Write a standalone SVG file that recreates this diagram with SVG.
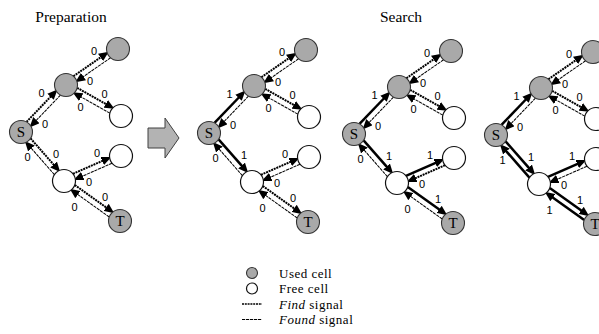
<svg xmlns="http://www.w3.org/2000/svg" width="599" height="334" viewBox="0 0 599 334">
<style>
.used{fill:#a9a9a9;stroke:#333;stroke-width:1.1}
.free{fill:#fff;stroke:#111;stroke-width:1.2}
.find{fill:none;stroke:#000;stroke-width:2;stroke-dasharray:2 0.8}
.found{fill:none;stroke:#000;stroke-width:1;stroke-dasharray:3.2 0.8}
.sig{fill:none;stroke:#000;stroke-width:2.5}
.lbl{font-family:"Liberation Sans",Arial,sans-serif;font-size:11px;text-anchor:middle;fill:#000}
.nl{font-family:"Liberation Serif","Times New Roman",serif;font-size:15px;text-anchor:middle;fill:#000}
.title{font-family:"Liberation Serif","Times New Roman",serif;font-size:15.5px;text-anchor:middle;fill:#000}
.leg{font-family:"Liberation Serif","Times New Roman",serif;font-size:13px;letter-spacing:0.5px;fill:#000}
</style>
<defs>
<marker id="ah" markerUnits="userSpaceOnUse" markerWidth="10" markerHeight="9" viewBox="0 0 9 8" refX="1" refY="4" orient="auto">
<path d="M0,0 L9,4 L0,8 z" fill="#000"/>
</marker>
</defs>
<rect width="599" height="334" fill="#fff"/>
<text class="title" x="71" y="22">Preparation</text>
<text class="title" x="401" y="22">Search</text>

<!-- Panel 1 -->
<g id="panel1" transform="translate(0,0)">
<g id="p1-connectors">
<g transform="translate(21,132) rotate(-46.25)"><line class="find" x1="11.1" y1="-3" x2="46.97" y2="-3" marker-end="url(#ah)"/><line class="found" x1="53.97" y1="3" x2="18.1" y2="3" marker-end="url(#ah)"/></g>
<g transform="translate(66,85) rotate(-34.70)"><line class="find" x1="11.1" y1="-3" x2="45.15" y2="-3" marker-end="url(#ah)"/><line class="found" x1="52.15" y1="3" x2="18.1" y2="3" marker-end="url(#ah)"/></g>
<g transform="translate(66,85) rotate(29.41)"><line class="find" x1="11.1" y1="-3" x2="45.03" y2="-3" marker-end="url(#ah)"/><line class="found" x1="52.03" y1="3" x2="18.1" y2="3" marker-end="url(#ah)"/></g>
<g transform="translate(21,132) rotate(48.73)"><line class="find" x1="11.1" y1="-3" x2="47.09" y2="-3" marker-end="url(#ah)"/><line class="found" x1="54.09" y1="3" x2="18.1" y2="3" marker-end="url(#ah)"/></g>
<g transform="translate(64,181) rotate(-23.68)"><line class="find" x1="11.1" y1="-3" x2="44.14" y2="-3" marker-end="url(#ah)"/><line class="found" x1="51.14" y1="3" x2="18.1" y2="3" marker-end="url(#ah)"/></g>
<g transform="translate(64,181) rotate(35.54)"><line class="find" x1="11.1" y1="-3" x2="50.72" y2="-3" marker-end="url(#ah)"/><line class="found" x1="57.72" y1="3" x2="18.1" y2="3" marker-end="url(#ah)"/></g>
<text class="lbl" x="41.5" y="97">0</text><text class="lbl" x="45" y="128">0</text>
<text class="lbl" x="94" y="55">0</text><text class="lbl" x="90" y="85">0</text>
<text class="lbl" x="104.5" y="98">0</text><text class="lbl" x="80.5" y="110.5">0</text>
<text class="lbl" x="56" y="157.5">0</text><text class="lbl" x="27.5" y="161">0</text>
<text class="lbl" x="97" y="156.5">0</text><text class="lbl" x="89" y="185.5">0</text>
<text class="lbl" x="105" y="201">0</text><text class="lbl" x="74.5" y="210.5">0</text>
</g>
<g id="p1-S"><circle class="used" cx="21" cy="132" r="11.5"/><text class="nl" x="21" y="137">S</text></g>
<g id="p1-U1"><circle class="used" cx="66" cy="85" r="11.5"/></g>
<g id="p1-U2"><circle class="used" cx="118" cy="49" r="11.5"/></g>
<g id="p1-F1"><circle class="free" cx="121" cy="116" r="11.5"/></g>
<g id="p1-F2"><circle class="free" cx="121" cy="156" r="11.5"/></g>
<g id="p1-F3"><circle class="free" cx="64" cy="181" r="11.5"/></g>
<g id="p1-T"><circle class="used" cx="120" cy="221" r="11.5"/><text class="nl" x="120" y="226">T</text></g>
</g>

<!-- Block arrow -->
<g id="step-arrow"><polygon points="148,128 165,128 165,118 179,138 165,158 165,148 148,148" fill="#b3b3b3" stroke="#404040" stroke-width="1"/></g>

<!-- Panel 2 -->
<g id="panel2" transform="translate(188,1)">
<g id="p2-connectors">
<g transform="translate(21,132) rotate(-46.25)"><line class="sig" x1="11.1" y1="-3" x2="46.97" y2="-3" marker-end="url(#ah)"/><line class="found" x1="53.97" y1="3" x2="18.1" y2="3" marker-end="url(#ah)"/></g>
<g transform="translate(66,85) rotate(-34.70)"><line class="find" x1="11.1" y1="-3" x2="45.15" y2="-3" marker-end="url(#ah)"/><line class="found" x1="52.15" y1="3" x2="18.1" y2="3" marker-end="url(#ah)"/></g>
<g transform="translate(66,85) rotate(29.41)"><line class="find" x1="11.1" y1="-3" x2="45.03" y2="-3" marker-end="url(#ah)"/><line class="found" x1="52.03" y1="3" x2="18.1" y2="3" marker-end="url(#ah)"/></g>
<g transform="translate(21,132) rotate(48.73)"><line class="sig" x1="11.1" y1="-3" x2="47.09" y2="-3" marker-end="url(#ah)"/><line class="found" x1="54.09" y1="3" x2="18.1" y2="3" marker-end="url(#ah)"/></g>
<g transform="translate(64,181) rotate(-23.68)"><line class="find" x1="11.1" y1="-3" x2="44.14" y2="-3" marker-end="url(#ah)"/><line class="found" x1="51.14" y1="3" x2="18.1" y2="3" marker-end="url(#ah)"/></g>
<g transform="translate(64,181) rotate(35.54)"><line class="find" x1="11.1" y1="-3" x2="50.72" y2="-3" marker-end="url(#ah)"/><line class="found" x1="57.72" y1="3" x2="18.1" y2="3" marker-end="url(#ah)"/></g>
<text class="lbl" x="41.5" y="97">1</text><text class="lbl" x="45" y="128">0</text>
<text class="lbl" x="94" y="55">0</text><text class="lbl" x="90" y="85">0</text>
<text class="lbl" x="104.5" y="98">0</text><text class="lbl" x="80.5" y="110.5">0</text>
<text class="lbl" x="56" y="157.5">1</text><text class="lbl" x="27.5" y="161">0</text>
<text class="lbl" x="97" y="156.5">0</text><text class="lbl" x="89" y="185.5">0</text>
<text class="lbl" x="105" y="201">0</text><text class="lbl" x="74.5" y="210.5">0</text>
</g>
<g id="p2-S"><circle class="used" cx="21" cy="132" r="11.5"/><text class="nl" x="21" y="137">S</text></g>
<g id="p2-U1"><circle class="used" cx="66" cy="85" r="11.5"/></g>
<g id="p2-U2"><circle class="used" cx="118" cy="49" r="11.5"/></g>
<g id="p2-F1"><circle class="free" cx="121" cy="116" r="11.5"/></g>
<g id="p2-F2"><circle class="free" cx="121" cy="156" r="11.5"/></g>
<g id="p2-F3"><circle class="free" cx="64" cy="181" r="11.5"/></g>
<g id="p2-T"><circle class="used" cx="120" cy="221" r="11.5"/><text class="nl" x="120" y="226">T</text></g>
</g>

<!-- Panel 3 -->
<g id="panel3" transform="translate(333,2)">
<g id="p3-connectors">
<g transform="translate(21,132) rotate(-46.25)"><line class="sig" x1="11.1" y1="-3" x2="46.97" y2="-3" marker-end="url(#ah)"/><line class="found" x1="53.97" y1="3" x2="18.1" y2="3" marker-end="url(#ah)"/></g>
<g transform="translate(66,85) rotate(-34.70)"><line class="find" x1="11.1" y1="-3" x2="45.15" y2="-3" marker-end="url(#ah)"/><line class="found" x1="52.15" y1="3" x2="18.1" y2="3" marker-end="url(#ah)"/></g>
<g transform="translate(66,85) rotate(29.41)"><line class="find" x1="11.1" y1="-3" x2="45.03" y2="-3" marker-end="url(#ah)"/><line class="found" x1="52.03" y1="3" x2="18.1" y2="3" marker-end="url(#ah)"/></g>
<g transform="translate(21,132) rotate(48.73)"><line class="sig" x1="11.1" y1="-3" x2="47.09" y2="-3" marker-end="url(#ah)"/><line class="found" x1="54.09" y1="3" x2="18.1" y2="3" marker-end="url(#ah)"/></g>
<g transform="translate(64,181) rotate(-23.68)"><line class="sig" x1="11.1" y1="-3" x2="44.14" y2="-3" marker-end="url(#ah)"/><line class="find" x1="51.14" y1="3" x2="18.1" y2="3" marker-end="url(#ah)"/></g>
<g transform="translate(64,181) rotate(35.54)"><line class="sig" x1="11.1" y1="-3" x2="50.72" y2="-3" marker-end="url(#ah)"/><line class="found" x1="57.72" y1="3" x2="18.1" y2="3" marker-end="url(#ah)"/></g>
<text class="lbl" x="41.5" y="97">1</text><text class="lbl" x="45" y="128">0</text>
<text class="lbl" x="94" y="55">0</text><text class="lbl" x="90" y="85">0</text>
<text class="lbl" x="104.5" y="98">0</text><text class="lbl" x="80.5" y="110.5">0</text>
<text class="lbl" x="56" y="157.5">1</text><text class="lbl" x="27.5" y="161">0</text>
<text class="lbl" x="97" y="156.5">1</text><text class="lbl" x="89" y="185.5">0</text>
<text class="lbl" x="105" y="201">1</text><text class="lbl" x="74.5" y="210.5">0</text>
</g>
<g id="p3-S"><circle class="used" cx="21" cy="132" r="11.5"/><text class="nl" x="21" y="137">S</text></g>
<g id="p3-U1"><circle class="used" cx="66" cy="85" r="11.5"/></g>
<g id="p3-U2"><circle class="used" cx="118" cy="49" r="11.5"/></g>
<g id="p3-F1"><circle class="free" cx="121" cy="116" r="11.5"/></g>
<g id="p3-F2"><circle class="free" cx="121" cy="156" r="11.5"/></g>
<g id="p3-F3"><circle class="free" cx="64" cy="181" r="11.5"/></g>
<g id="p3-T"><circle class="used" cx="120" cy="221" r="11.5"/><text class="nl" x="120" y="226">T</text></g>
</g>

<!-- Panel 4 -->
<g id="panel4" transform="translate(475,3)">
<g id="p4-connectors">
<g transform="translate(21,132) rotate(-46.25)"><line class="sig" x1="11.1" y1="-3" x2="46.97" y2="-3" marker-end="url(#ah)"/><line class="found" x1="53.97" y1="3" x2="18.1" y2="3" marker-end="url(#ah)"/></g>
<g transform="translate(66,85) rotate(-34.70)"><line class="find" x1="11.1" y1="-3" x2="45.15" y2="-3" marker-end="url(#ah)"/><line class="found" x1="52.15" y1="3" x2="18.1" y2="3" marker-end="url(#ah)"/></g>
<g transform="translate(66,85) rotate(29.41)"><line class="find" x1="11.1" y1="-3" x2="45.03" y2="-3" marker-end="url(#ah)"/><line class="found" x1="52.03" y1="3" x2="18.1" y2="3" marker-end="url(#ah)"/></g>
<g transform="translate(21,132) rotate(48.73)"><line class="sig" x1="11.1" y1="-3" x2="47.09" y2="-3" marker-end="url(#ah)"/><line class="sig" x1="54.09" y1="3" x2="18.1" y2="3" marker-end="url(#ah)"/></g>
<g transform="translate(64,181) rotate(-23.68)"><line class="sig" x1="11.1" y1="-3" x2="44.14" y2="-3" marker-end="url(#ah)"/><line class="found" x1="51.14" y1="3" x2="18.1" y2="3" marker-end="url(#ah)"/></g>
<g transform="translate(64,181) rotate(35.54)"><line class="sig" x1="11.1" y1="-3" x2="50.72" y2="-3" marker-end="url(#ah)"/><line class="sig" x1="57.72" y1="3" x2="18.1" y2="3" marker-end="url(#ah)"/></g>
<text class="lbl" x="41.5" y="97">1</text><text class="lbl" x="45" y="128">0</text>
<text class="lbl" x="94" y="55">0</text><text class="lbl" x="90" y="85">0</text>
<text class="lbl" x="104.5" y="98">0</text><text class="lbl" x="80.5" y="110.5">0</text>
<text class="lbl" x="56" y="157.5">1</text><text class="lbl" x="27.5" y="161">1</text>
<text class="lbl" x="97" y="156.5">1</text><text class="lbl" x="89" y="185.5">0</text>
<text class="lbl" x="105" y="201">1</text><text class="lbl" x="74.5" y="210.5">1</text>
</g>
<g id="p4-S"><circle class="used" cx="21" cy="132" r="11.5"/><text class="nl" x="21" y="137">S</text></g>
<g id="p4-U1"><circle class="used" cx="66" cy="85" r="11.5"/></g>
<g id="p4-U2"><circle class="used" cx="118" cy="49" r="11.5"/></g>
<g id="p4-F1"><circle class="free" cx="121" cy="116" r="11.5"/></g>
<g id="p4-F2"><circle class="free" cx="121" cy="156" r="11.5"/></g>
<g id="p4-F3"><circle class="free" cx="64" cy="181" r="11.5"/></g>
<g id="p4-T"><circle class="used" cx="120" cy="221" r="11.5"/><text class="nl" x="120" y="226">T</text></g>
</g>

<!-- Legend -->
<g id="legend">
<g id="leg-used"><circle class="used" cx="252" cy="273" r="5.5"/><text class="leg" x="279" y="277.5">Used cell</text></g>
<g id="leg-free"><circle class="free" cx="252" cy="288.5" r="5.5"/><text class="leg" x="279" y="293">Free cell</text></g>
<g id="leg-find"><line class="find" x1="242" y1="304" x2="262" y2="304" style="stroke-width:1.5"/><text class="leg" x="279" y="308.5"><tspan font-style="italic">Find</tspan> signal</text></g>
<g id="leg-found"><line class="found" x1="242" y1="319.5" x2="262" y2="319.5"/><text class="leg" x="279" y="324"><tspan font-style="italic">Found</tspan> signal</text></g>
</g>
</svg>
